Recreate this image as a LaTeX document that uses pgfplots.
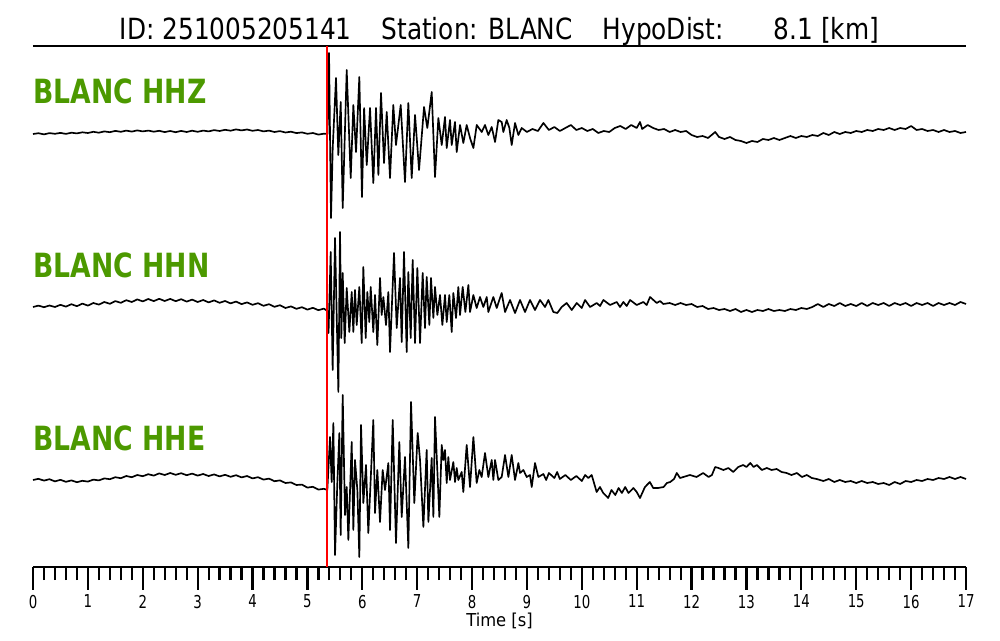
\documentclass[border=0pt]{standalone}
\usepackage{pgfplots}
\pgfplotsset{compat=1.18}
\usepackage{pgfplotstable}
\usepackage{fontspec}
\setmainfont{DejaVu Sans}[FakeStretch=0.75]
\newfontfamily\titlefont{DejaVu Sans}[FakeStretch=0.85]
\newfontfamily\lblfont{DejaVu Sans}[FakeStretch=0.80]
\newfontfamily\xlfont{DejaVu Sans}[FakeStretch=0.92]
\definecolor{lblgreen}{RGB}{76,153,0}

% HHZ: time [s], amplitude (relative)
\pgfplotstableread{
t a
0.0 0.0
0.1 0.8
0.2 -0.4
0.3 0.9
0.4 0.2
0.5 1.1
0.6 0.1
0.7 1.3
0.8 0.6
0.9 1.7
1.0 1.0
1.1 2.2
1.2 1.3
1.3 2.6
1.4 1.8
1.5 3.1
1.6 2.2
1.7 3.4
1.8 2.4
1.9 3.6
2.0 2.6
2.1 3.4
2.2 2.3
2.3 3.2
2.4 1.9
2.5 3.0
2.6 1.8
2.7 3.1
2.8 2.0
2.9 3.3
3.0 2.2
3.1 3.4
3.2 2.6
3.3 3.9
3.4 3.0
3.5 4.2
3.6 3.3
3.7 4.6
3.8 3.6
3.9 4.5
4.0 3.2
4.1 4.0
4.2 2.6
4.3 3.4
4.4 2.0
4.5 2.9
4.6 1.5
4.7 2.3
4.8 0.9
4.9 1.6
5.0 0.2
5.1 1.0
5.2 -0.6
5.3 0.3
5.366 0
5.394 81
5.430 -84
5.461 -14
5.521 56
5.563 -21
5.607 32
5.643 -74
5.716 64
5.789 -44
5.837 29
5.886 -18
5.946 57
5.994 -63
6.033 26
6.081 -31
6.141 26
6.201 -49
6.250 26
6.293 -41
6.341 41
6.396 -29
6.445 22
6.505 -44
6.565 29
6.614 -11
6.700 29
6.778 -48
6.839 31
6.900 -44
6.961 19
7.034 -36
7.125 27
7.185 6
7.265 42
7.325 -43
7.386 16
7.447 -11
7.507 17
7.538 -14
7.598 14
7.629 -11
7.689 12
7.720 -18
7.781 9
7.841 -9
7.902 9
7.963 -4
8.024 -14
8.085 9
8.176 2
8.236 9
8.297 -1
8.358 7
8.419 -8
8.479 14
8.540 12
8.570 2
8.631 14
8.680 6
8.722 -11
8.783 11
8.844 -1
8.904 6
9.0 2
9.1 5
9.2 3
9.3 11
9.4 4
9.5 7
9.6 3
9.7 6
9.8 9
9.9 4
10.0 6
10.1 3
10.2 5
10.3 1
10.4 3
10.5 2
10.6 6
10.7 8
10.8 5
10.9 9
11.0 6
11.06 12
11.1 5
11.2 9
11.3 6
11.4 4
11.5 5
11.6 2
11.7 4
11.8 2
11.9 3
12.0 -1
12.1 -3
12.2 -2
12.3 -4
12.43 2
12.5 -3
12.6 -5
12.7 -3
12.8 -6
12.9 -7
13.0 -9
13.1 -7
13.2 -8
13.3 -5
13.4 -6
13.5 -4
13.6 -6
13.7 -4
13.8 -2
13.9 -4
14.0 -2
14.1 -3
14.2 -1
14.3 -2
14.4 1
14.5 -1
14.6 2
14.7 0
14.8 2
14.9 1
15.0 3
15.1 2
15.2 4
15.3 3
15.4 5
15.5 4
15.6 6
15.7 4
15.8 6
15.9 5
16.0 8
16.1 4
16.2 5
16.3 3
16.4 4
16.5 2
16.6 4
16.7 2
16.8 3
16.9 1
17.0 2
}\hhz

% HHN
\pgfplotstableread{
t a
0.0 -2.0
0.1 -0.6
0.2 -2.2
0.3 -0.5
0.4 -2.0
0.5 0.2
0.6 -1.6
0.7 0.8
0.8 -1.2
0.9 1.4
1.0 -0.6
1.1 2.0
1.2 0.4
1.3 3.0
1.4 1.2
1.5 3.9
1.6 2.2
1.7 4.8
1.8 3.0
1.9 5.6
2.0 3.6
2.1 6.0
2.2 3.9
2.3 6.2
2.4 4.0
2.5 6.1
2.6 3.8
2.7 5.8
2.8 3.4
2.9 5.4
3.0 3.0
3.1 5.0
3.2 2.6
3.3 4.6
3.4 2.2
3.5 4.0
3.6 1.6
3.7 3.4
3.8 0.9
3.9 2.6
4.0 0.2
4.1 1.8
4.2 -0.8
4.3 0.8
4.4 -1.8
4.5 -0.2
4.6 -3.0
4.7 -1.4
4.8 -3.8
4.9 -2.2
5.0 -4.6
5.1 -2.8
5.2 -5.2
5.3 -3.6
5.366 -6
5.385 -28
5.424 53
5.460 -65
5.503 67
5.564 -87
5.594 73
5.618 -33
5.643 32
5.679 -38
5.716 17
5.764 -27
5.807 13
5.837 -27
5.867 15
5.898 -20
5.946 18
5.989 -38
6.019 38
6.062 -33
6.092 13
6.128 -17
6.153 18
6.201 -27
6.232 10
6.274 -40
6.323 27
6.353 -10
6.384 8
6.432 -20
6.475 13
6.505 -47
6.578 52
6.627 -23
6.687 27
6.718 -37
6.760 53
6.809 -47
6.839 33
6.882 -33
6.918 45
6.961 -38
7.003 37
7.052 -38
7.100 32
7.143 -23
7.173 28
7.222 -20
7.252 27
7.295 -13
7.325 18
7.368 -10
7.416 10
7.459 -20
7.507 10
7.538 -17
7.586 10
7.629 -27
7.659 12
7.708 -13
7.750 18
7.781 -10
7.829 18
7.878 -7
7.933 20
7.963 -7
8.024 10
8.084 -3
8.145 8
8.206 -2
8.267 8
8.297 -7
8.388 8
8.449 -3
8.540 12
8.601 -7
8.692 5
8.783 -8
8.874 5
8.965 -7
9.056 5
9.147 -5
9.238 5
9.330 -2
9.390 5
9.481 -7
9.554 -8
9.633 -2
9.724 2
9.816 -5
9.907 2
9.998 -3
10.059 5
10.150 -2
10.271 2
10.332 -1
10.393 5
10.514 0
10.636 3
10.696 -2
10.757 3
10.818 -1
10.879 5
11.000 0
11.121 3
11.182 0
11.243 8
11.365 2
11.425 4
11.486 1
11.6 2
11.7 0
11.8 2
11.9 0
12.0 1
12.1 -2
12.2 -1
12.3 -4
12.4 -3
12.5 -5
12.6 -4
12.7 -6
12.8 -4
12.9 -7
13.0 -5
13.1 -7
13.2 -5
13.3 -6
13.4 -4
13.5 -6
13.6 -5
13.7 -6
13.8 -4
13.9 -5
14.0 -3
14.1 -4
14.2 -2
14.3 1
14.4 -2
14.5 1
14.6 -1
14.7 2
14.8 -1
14.9 1
15.0 -1
15.1 2
15.2 -1
15.3 2
15.4 0
15.5 2
15.6 -1
15.7 2
15.8 0
15.9 2
16.0 -1
16.1 2
16.2 0
16.3 2
16.4 -1
16.5 2
16.6 0
16.7 2
16.8 0
16.9 3
17.0 1
}\hhn

% HHE
\pgfplotstableread{
t a
0.0 -2.0
0.1 -0.8
0.2 -2.6
0.3 -1.2
0.4 -3.4
0.5 -1.8
0.6 -3.8
0.7 -2.4
0.8 -4.2
0.9 -2.8
1.0 -3.6
1.1 -1.6
1.2 -2.4
1.3 -0.4
1.4 -1.2
1.5 0.8
1.6 -0.2
1.7 2.0
1.8 0.8
1.9 3.0
2.0 1.8
2.1 3.8
2.2 2.4
2.3 4.6
2.4 3.0
2.5 5.0
2.6 3.2
2.7 4.8
2.8 2.8
2.9 4.4
3.0 2.4
3.1 4.0
3.2 2.0
3.3 3.6
3.4 1.6
3.5 3.2
3.6 1.2
3.7 2.8
3.8 0.6
3.9 2.0
4.0 -0.4
4.1 0.8
4.2 -1.6
4.3 -0.6
4.4 -3.2
4.5 -2.4
4.6 -5.0
4.7 -4.4
4.8 -7.0
4.9 -6.6
5.0 -9.6
5.1 -8.8
5.2 -11.6
5.3 -10.8
5.363 -12
5.412 41
5.442 -4
5.473 55
5.503 -77
5.545 -5
5.582 45
5.606 -57
5.643 83
5.685 -37
5.716 -9
5.746 -62
5.807 36
5.837 -52
5.867 18
5.910 -12
5.946 -79
5.977 53
6.019 -25
6.068 13
6.110 -55
6.201 58
6.232 -35
6.274 8
6.323 -44
6.371 8
6.414 -12
6.475 15
6.505 -52
6.554 58
6.614 -65
6.675 36
6.718 -39
6.778 21
6.839 -70
6.888 76
6.948 -25
7.009 45
7.052 18
7.113 -49
7.173 28
7.204 -44
7.264 20
7.295 -39
7.325 61
7.404 -39
7.447 33
7.477 18
7.507 28
7.538 -5
7.568 21
7.598 -2
7.659 16
7.690 -4
7.720 10
7.750 -2
7.811 6
7.841 -14
7.902 33
7.963 -9
8.024 41
8.084 -5
8.133 8
8.175 1
8.236 25
8.297 1
8.358 18
8.388 -2
8.419 18
8.479 -2
8.540 1
8.601 23
8.662 1
8.722 23
8.783 -2
8.844 15
8.874 5
8.935 8
8.996 1
9.056 3
9.087 -9
9.147 15
9.208 1
9.3 4
9.35 -2
9.4 5
9.5 0
9.55 6
9.6 -1
9.7 3
9.8 -2
9.9 2
10.0 -3
10.06 3
10.12 0
10.18 3
10.27 -14
10.33 -9
10.39 -15
10.48 -20
10.54 -12
10.61 -17
10.67 -10
10.73 -15
10.79 -9
10.85 -15
10.94 -10
11.00 -14
11.06 -20
11.15 -9
11.24 -4
11.30 -10
11.39 -10
11.49 -9
11.55 -5
11.61 -4
11.68 -1
11.73 5
11.79 0
11.85 1
11.97 3
12.09 1
12.21 5
12.31 1
12.37 3
12.43 11
12.49 10
12.58 8
12.67 10
12.76 6
12.85 11
12.94 13
13.00 11
13.07 15
13.13 11
13.19 13
13.28 8
13.37 10
13.46 8
13.55 9
13.64 6
13.73 5
13.82 3
13.92 5
14.01 1
14.10 3
14.19 0
14.28 -1
14.4 -3
14.5 -1
14.6 -4
14.7 -2
14.8 -4
14.9 -3
15.0 -5
15.1 -3
15.2 -5
15.3 -4
15.4 -6
15.5 -5
15.6 -7
15.7 -4
15.8 -6
15.9 -3
16.0 -4
16.1 -2
16.2 -3
16.3 -1
16.4 -2
16.5 0
16.6 -1
16.7 1
16.8 -1
16.9 1
17.0 -1
}\hhe

\begin{document}
\begin{tikzpicture}
\useasboundingbox (-23.76pt,-52.56pt) rectangle (696.24pt,408.24pt);
\begin{axis}[
  at={(0pt,0pt)}, anchor=south west,
  scale only axis, width=671.76pt, height=375.12pt,
  xmin=0, xmax=17, ymin=0, ymax=521,
  axis x line=box, axis y line=none,
  xtick pos=bottom, tick align=outside,
  xtick={0,1,...,17}, minor x tick num=4,
  ytick=\empty,
  major tick length=16.5pt, minor tick length=9.4pt,
  tick style={black, line width=1.6pt},
  axis line style={black, line width=1.4pt},
  /pgf/number format/assume math mode=true,
  xticklabel style={font=\fontsize{12.8}{14}\selectfont},
  xlabel={Time [s]},
  xlabel style={font=\xlfont\fontsize{12.8}{14}\selectfont, yshift=3.5pt},
  clip=false,
]
\addplot[black, line width=1.2pt, line join=round] table[x=t, y expr=\thisrow{a}+433] {\hhz};
\addplot[black, line width=1.2pt, line join=round] table[x=t, y expr=\thisrow{a}+262] {\hhn};
\addplot[black, line width=1.2pt, line join=round] table[x=t, y expr=\thisrow{a}+89] {\hhe};
\addplot[color=red, line width=1pt] coordinates {(5.36,0) (5.36,521)};
\node[anchor=west, inner sep=0pt, text=lblgreen, font=\lblfont\fontsize{24}{28}\selectfont\bfseries] at (axis cs:0,476) {BLANC HHZ};
\node[anchor=west, inner sep=0pt, text=lblgreen, font=\lblfont\fontsize{24}{28}\selectfont\bfseries] at (axis cs:0,302) {BLANC HHN};
\node[anchor=west, inner sep=0pt, text=lblgreen, font=\lblfont\fontsize{24}{28}\selectfont\bfseries] at (axis cs:0,129) {BLANC HHE};
\node[anchor=base, inner sep=0pt, font=\titlefont\fontsize{21}{25}\selectfont] at (axis cs:8.5,527) {ID: 251005205141\hspace{21.5pt}Station: BLANC\hspace{21.5pt}HypoDist:\hspace{36pt}8.1 [km]};
\end{axis}
\end{tikzpicture}
\end{document}
